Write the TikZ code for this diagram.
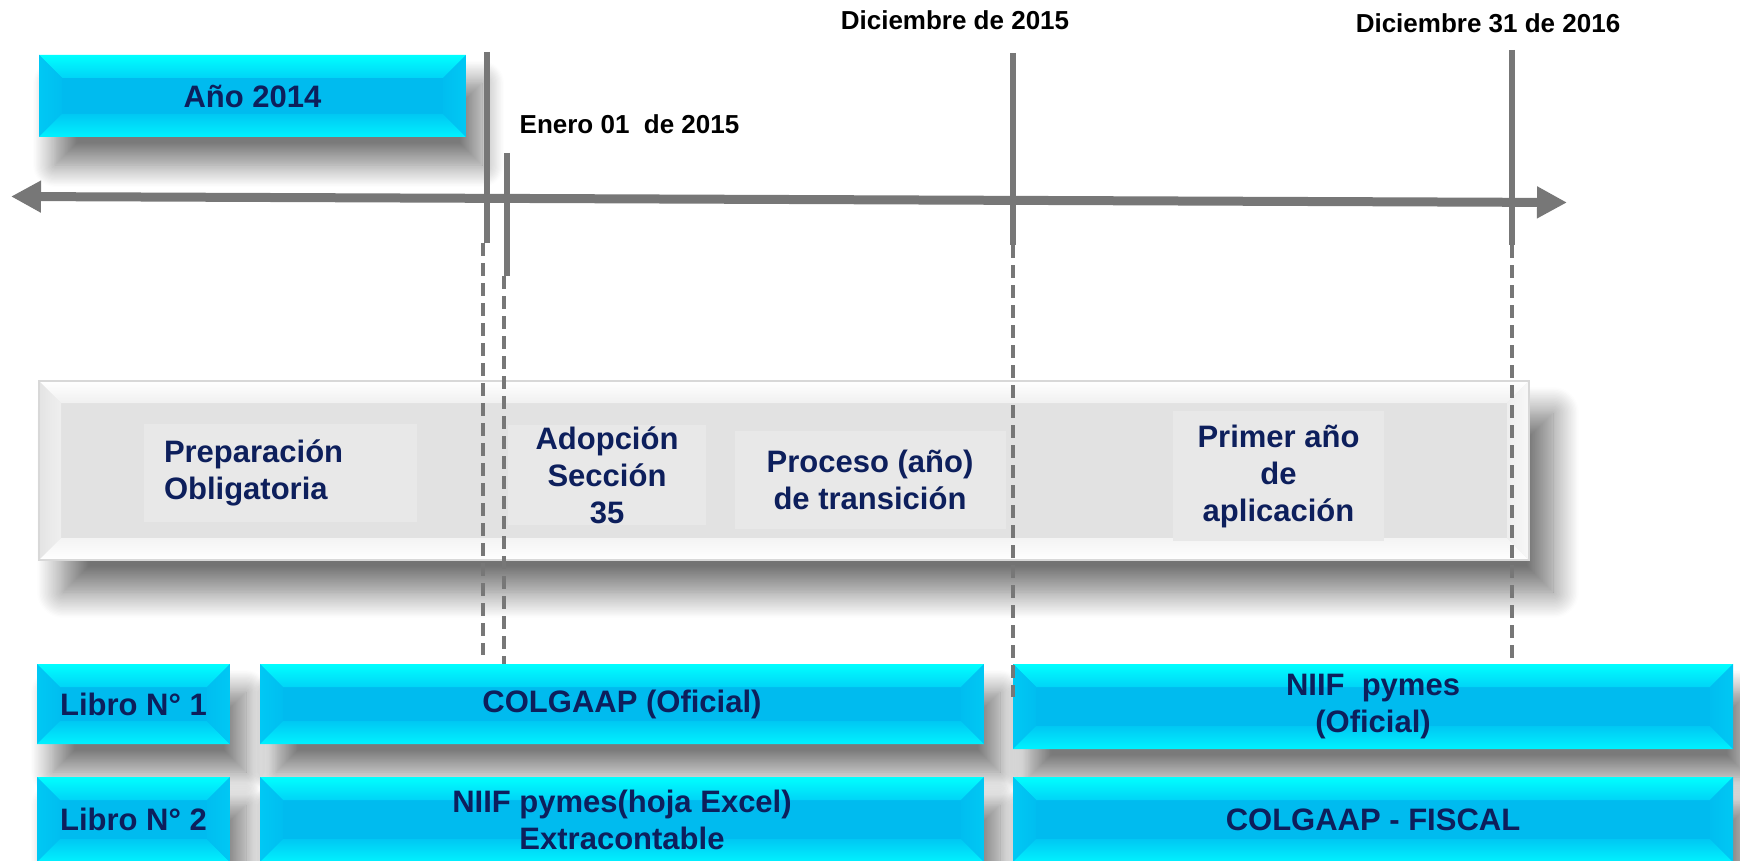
\documentclass[tikz,border=0pt]{standalone}
\usepackage{fontspec}
\setmainfont{Liberation Sans}
\usetikzlibrary{arrows.meta,shadows.blur}

\definecolor{navy}{HTML}{0D1F5C}
\definecolor{lineg}{HTML}{777777}
\definecolor{cyTop}{HTML}{00FFFF}
\definecolor{cyTopIn}{HTML}{00D4F7}
\definecolor{cyMid}{HTML}{00BBEF}
\definecolor{cySideOut}{HTML}{00C8F4}
\definecolor{cySideIn}{HTML}{00BEF0}
\definecolor{cyBotIn}{HTML}{00C8F3}
\definecolor{cyBotOut}{HTML}{00F2FF}
\definecolor{gMid}{HTML}{E2E2E2}
\definecolor{gSub}{HTML}{E8E8E8}
\definecolor{gTopIn}{HTML}{F0F0F0}
\definecolor{gLeftOut}{HTML}{E4E4E4}
\definecolor{gLeftIn}{HTML}{EFEFEF}
\definecolor{gBotIn}{HTML}{F4F4F4}
\definecolor{gRightIn}{HTML}{EEEEEE}
\definecolor{gRightOut}{HTML}{F8F8F8}
\definecolor{gBorder}{HTML}{D8D8D8}

% #1 bevel width, #2/#3 top outer/inner, #4/#5 left outer/inner,
% #6/#7 bottom inner/outer, #8/#9 right inner/outer
\newcommand{\bevelfill}[9]{%
  \path (path picture bounding box.north west) coordinate (pNW)
        (path picture bounding box.north east) coordinate (pNE)
        (path picture bounding box.south west) coordinate (pSW)
        (path picture bounding box.south east) coordinate (pSE);
  \path ([xshift=#1,yshift=-#1]pNW) coordinate (iNW)
        ([xshift=-#1,yshift=-#1]pNE) coordinate (iNE)
        ([xshift=#1,yshift=#1]pSW) coordinate (iSW)
        ([xshift=-#1,yshift=#1]pSE) coordinate (iSE);
  \shade[top color=#2, bottom color=#3] (pNW) -- (pNE) -- (iNE) -- (iNW) -- cycle;
  \shade[left color=#4, right color=#5] (pNW) -- (iNW) -- (iSW) -- (pSW) -- cycle;
  \shade[top color=#6, bottom color=#7] (iSW) -- (iSE) -- (pSE) -- (pSW) -- cycle;
  \shade[left color=#8, right color=#9] (iNE) -- (pNE) -- (pSE) -- (iSE) -- cycle;
}

\begin{document}
\begin{tikzpicture}[x=1pt,y=-1pt,
  cybox/.style={rectangle, fill=cyMid, inner sep=0pt, align=center, text=navy,
    font=\bfseries\fontsize{31}{37}\selectfont,
    blur shadow={shadow xshift=16pt, shadow yshift=-28pt, shadow blur radius=22pt, shadow blur steps=20, shadow opacity=52},
    path picture={\bevelfill{23pt}{cyTop}{cyTopIn}{cySideOut}{cySideIn}{cyBotIn}{cyBotOut}{cySideIn}{cySideOut}}},
  graybox/.style={rectangle, fill=gMid, draw=gBorder, line width=1.2pt, inner sep=0pt,
    blur shadow={shadow xshift=24pt, shadow yshift=-32pt, shadow blur radius=26pt, shadow blur steps=20, shadow opacity=55},
    path picture={\bevelfill{22pt}{white}{gTopIn}{gLeftOut}{gLeftIn}{gBotIn}{white}{gRightIn}{gRightOut}}},
  subbox/.style={rectangle, fill=gSub, inner sep=0pt, align=center, text=navy,
    font=\bfseries\fontsize{31}{37}\selectfont},
  datelbl/.style={inner sep=0pt, text=black, font=\bfseries\fontsize{26}{30}\selectfont},
  axisline/.style={draw=lineg, line width=9pt,
    arrows={Triangle[length=30pt,width=30pt]-Triangle[length=30pt,width=30pt]}},
  tickline/.style={draw=lineg, line width=6pt},
  dline/.style={draw=lineg, line width=3.5pt, dash pattern=on 13pt off 7pt}
]
\useasboundingbox (0,0) rectangle (1740,861);

% phase band
\node[graybox, minimum width=1490pt, minimum height=179pt] (band) at (784,470.5) {};
\node[subbox, text width=233pt, align=left, inner xsep=20pt, minimum height=98pt] (prep) at (280.5,473) {Preparación\\Obligatoria};
\node[subbox, minimum width=198pt, minimum height=100pt] (adop) at (607,475) {Adopción\\Sección\\35};
\node[subbox, minimum width=271pt, minimum height=98pt] (proc) at (870,480) {Proceso (año)\\de transición};
\node[subbox, minimum width=211pt, minimum height=130pt] (prim) at (1278.5,476) {Primer año\\de\\aplicación};

% year box
\node[cybox, minimum width=427pt, minimum height=82pt] (yr) at (252.5,96) {Año 2014};

% book rows
\node[cybox, minimum width=193pt, minimum height=80pt] (lib1) at (133.5,704) {Libro N° 1};
\node[cybox, minimum width=724pt, minimum height=80pt] (col1) at (622,704) {COLGAAP (Oficial)};
\node[cybox, minimum width=720pt, minimum height=85pt] (niif1) at (1373,706.5) {NIIF\ \ pymes\\(Oficial)};
\node[cybox, minimum width=193pt, minimum height=85pt] (lib2) at (133.5,819.5) {Libro N° 2};
\node[cybox, minimum width=724pt, minimum height=85pt] (niif2) at (622,819.5) {NIIF pymes(hoja Excel)\\Extracontable};
\node[cybox, minimum width=720pt, minimum height=85pt] (col2) at (1373,819.5) {COLGAAP - FISCAL};

% time axis
\coordinate (axL) at (11,196.5);
\coordinate (axR) at (1567,202.5);
\draw[axisline] (axL) -- (axR);

% ticks
\coordinate (v1a) at (487,52);   \coordinate (v1b) at (487,243);
\coordinate (v1c) at (483,243);  \coordinate (v1d) at (483,655);
\coordinate (v2a) at (507,153);  \coordinate (v2b) at (507,276);
\coordinate (v2c) at (504,276);  \coordinate (v2d) at (504,664);
\coordinate (v3a) at (1013,53);  \coordinate (v3b) at (1013,245);
\coordinate (v3d) at (1013,697);
\coordinate (v4a) at (1512,50);  \coordinate (v4b) at (1512,245);
\coordinate (v4d) at (1512,664);

\draw[tickline] (v1a) -- (v1b);
\draw[tickline] (v2a) -- (v2b);
\draw[tickline] (v3a) -- (v3b);
\draw[tickline] (v4a) -- (v4b);
\draw[dline] (v1c) -- (v1d);
\draw[dline] (v2c) -- (v2d);
\draw[dline] (v3b) -- (v3d);
\draw[dline] (v4b) -- (v4d);

% date labels
\node[datelbl] (d1) at (629.5,124) {Enero 01\ \ de 2015};
\node[datelbl] (d2) at (955,20) {Diciembre de 2015};
\node[datelbl] (d3) at (1488,23) {Diciembre 31 de 2016};
\end{tikzpicture}
\end{document}
